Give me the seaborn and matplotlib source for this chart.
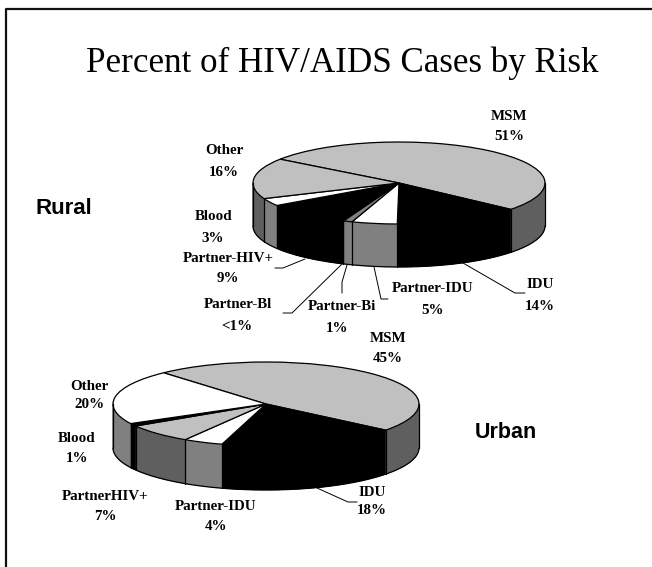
import numpy as np
import matplotlib
matplotlib.use("Agg")
import matplotlib.pyplot as plt
import seaborn as sns

W, H = 652, 567

LIGHT, MID, DARK, BLACK, WHITE = "#c0c0c0", "#808080", "#5f5f5f", "#000000", "#ffffff"

rural_categories = ["MSM", "IDU", "Partner-IDU", "Partner-Bi", "Partner-Bl", "Partner-HIV+", "Blood", "Other"]
rural_values = [51, 14, 5, 1, 0.5, 9, 3, 16]
rural_labels = ["51%", "14%", "5%", "1%", "<1%", "9%", "3%", "16%"]
rural_top = [LIGHT, BLACK, WHITE, MID, BLACK, BLACK, WHITE, LIGHT]
rural_side = [DARK, BLACK, MID, MID, BLACK, BLACK, MID, DARK]

urban_categories = ["MSM", "IDU", "Partner-IDU", "PartnerHIV+", "Blood", "Other"]
urban_values = [45, 18, 4, 7, 1, 20]
urban_labels = ["45%", "18%", "4%", "7%", "1%", "20%"]
urban_top = [LIGHT, BLACK, WHITE, LIGHT, BLACK, WHITE]
urban_side = [DARK, BLACK, MID, DARK, BLACK, MID]

sns.set_theme(style="white")
plt.rcParams["font.family"] = ["Liberation Serif", "DejaVu Serif"]
plt.rcParams["text.color"] = "black"

fig = plt.figure(figsize=(W / 100, H / 100), dpi=100, facecolor="white")


def pie3d(cx, cy, rx, ry, depth, values, top, side, start):
    d = depth / ry
    m = 1.03
    left = cx - rx * m
    bottom = H - (cy + (d + m) * ry)
    ax = fig.add_axes([left / W, bottom / H, 2 * rx * m / W, (d + 2 * m) * ry / H])
    ax.patch.set_alpha(0)
    for k in np.linspace(d, 0, int(depth * 2) + 1)[:-1]:
        wedges, _ = ax.pie(values, colors=side, startangle=start, counterclock=False,
                           center=(0, -k), wedgeprops=dict(linewidth=0.4))
        for w in wedges:
            w.set_edgecolor(w.get_facecolor())
    ax.pie(values, colors=top, startangle=start, counterclock=False,
           wedgeprops=dict(linewidth=0.9, edgecolor="black"))
    # silhouette and slice edges on the side wall
    t = np.radians(np.linspace(180, 360, 200))
    ax.plot(np.cos(t), np.sin(t) - d, color="black", lw=0.9)
    bounds = start - np.cumsum(values) / np.sum(values) * 360
    for a in list(np.radians(bounds)) + [np.pi, 0.0]:
        if np.sin(a) <= 1e-9:
            ax.plot([np.cos(a)] * 2, [np.sin(a), np.sin(a) - d], color="black", lw=0.9)
    ax.set_aspect("auto")
    ax.set_xlim(-m, m)
    ax.set_ylim(-d - m, m)
    ax.axis("off")


pie3d(399, 183, 146, 41, 43, rural_values, rural_top, rural_side, 144.5)
pie3d(266, 404, 153, 42, 44, urban_values, urban_top, urban_side, 132)

ov = fig.add_axes([0, 0, 1, 1])
ov.set_xlim(0, W)
ov.set_ylim(H, 0)
ov.axis("off")
ov.patch.set_alpha(0)

# slide frame
ov.plot([5.5, 5.5, W], [H, 8.5, 8.5], color="#111111", lw=1.6, clip_on=False)

ov.text(342, 63, "Percent of HIV/AIDS Cases by Risk", ha="center", va="center",
        fontsize=25.2, color="black")
ov.text(64, 208, "Rural", ha="center", va="center", fontsize=16, fontweight="bold",
        family="Liberation Sans", color="black")
ov.text(506, 432, "Urban", ha="center", va="center", fontsize=15.5, fontweight="bold",
        family="Liberation Sans", color="black")

label_style = dict(ha="center", va="center", fontsize=10.8, fontweight="bold", color="black")
rural_name_xy = [(509, 116), (540, 285), (433, 289), (342, 307), (238, 304), (228, 258), (214, 217), (224, 151)]
rural_pct_xy = [(509, 137), (540, 306), (433, 310), (337, 329), (237, 326), (228, 279), (213, 238), (224, 172)]
urban_name_xy = [(388, 339), (372, 492), (216, 507), (105, 497), (77, 439), (89, 386)]
urban_pct_xy = [(388, 358), (372, 511), (216, 526), (105, 516), (77, 458), (89, 405)]

for names, pcts, nxy, pxy in [(rural_categories, rural_labels, rural_name_xy, rural_pct_xy),
                              (urban_categories, urban_labels, urban_name_xy, urban_pct_xy)]:
    for n, p, a, b in zip(names, pcts, nxy, pxy):
        ov.text(*a, n, **label_style)
        ov.text(*b, p, **label_style)

leaders = [
    [(463, 263), (515, 293), (525, 293)],
    [(374, 267), (381, 299), (388, 299)],
    [(347, 265), (342, 282), (342, 293)],
    [(342, 264), (292, 313), (283, 313)],
    [(305, 259), (283, 268), (275, 268)],
    [(317, 488), (348, 502), (357, 502)],
]
for line in leaders:
    xs, ys = zip(*line)
    ov.plot(xs, ys, color="black", lw=0.7)

fig.savefig("out.png", dpi=100)
